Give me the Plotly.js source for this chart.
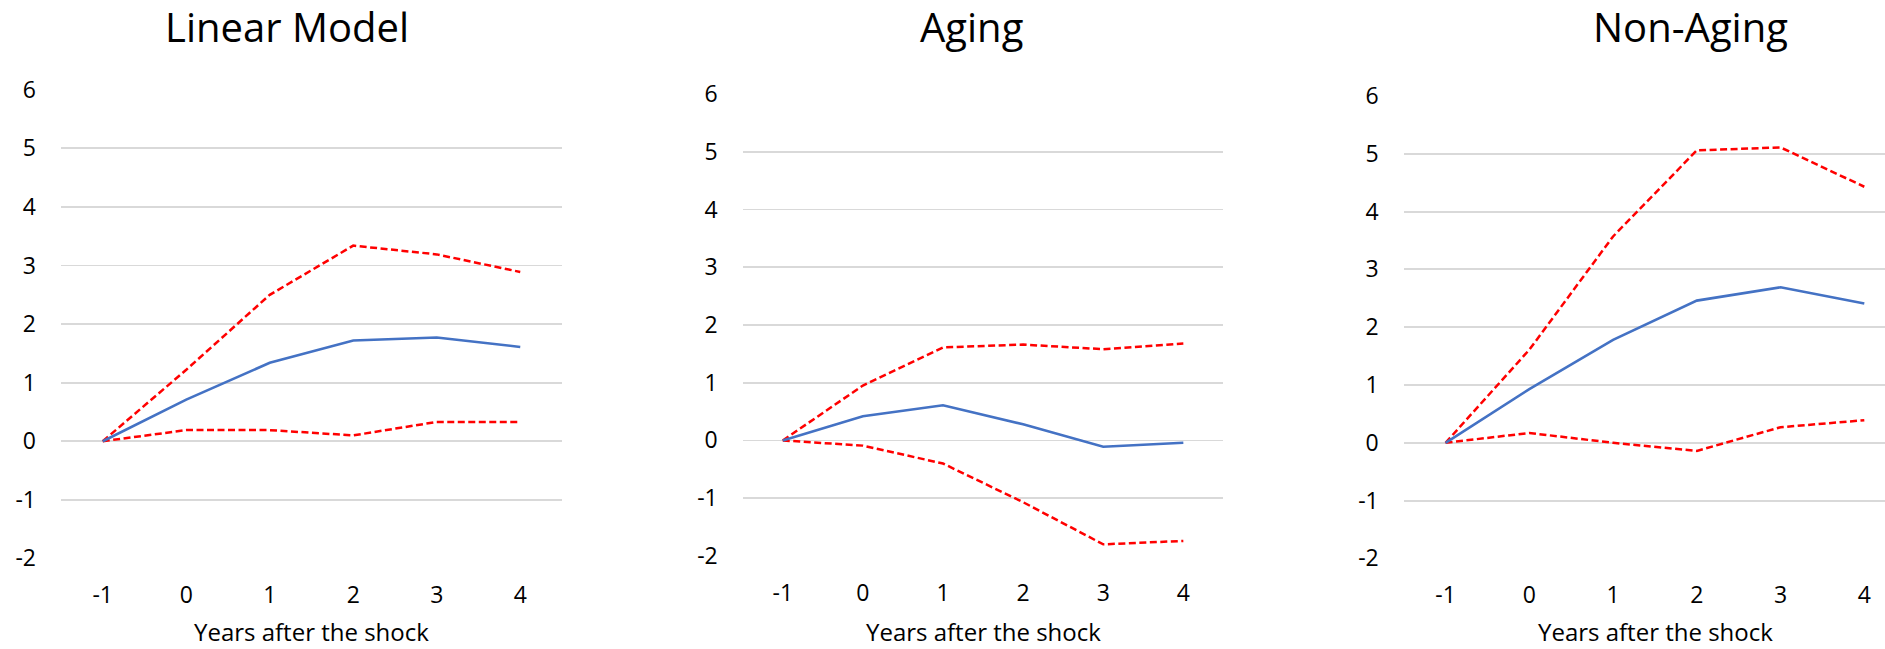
<!DOCTYPE html>
<html>
<head>
<meta charset="utf-8">
<script src="https://cdn.plot.ly/plotly-3.0.1.min.js"></script>
<style>html,body{margin:0;padding:0;background:#fff;}#chart{width:1885px;height:649px;}</style>
</head>
<body>
<div id="chart"></div>
<script>
const years = [-1, 0, 1, 2, 3, 4];
const panelTitles = ["Linear Model", "Aging", "Non-Aging"];
const xAxisTitle = "Years after the shock";
const yTicks = [-2, -1, 0, 1, 2, 3, 4, 5, 6];

const linearEst = [0, 0.71, 1.34, 1.72, 1.77, 1.61];
const linearUpper = [0, 1.22, 2.50, 3.34, 3.19, 2.89];
const linearLower = [0, 0.19, 0.19, 0.10, 0.33, 0.33];

const agingEst = [0, 0.42, 0.61, 0.28, -0.11, -0.04];
const agingUpper = [0, 0.95, 1.61, 1.66, 1.58, 1.68];
const agingLower = [0, -0.09, -0.40, -1.07, -1.80, -1.74];

const nonAgingEst = [0, 0.93, 1.78, 2.46, 2.69, 2.41];
const nonAgingUpper = [0, 1.61, 3.57, 5.06, 5.11, 4.43];
const nonAgingLower = [0, 0.17, 0.00, -0.14, 0.27, 0.39];

const panels = [
  {est: linearEst, up: linearUpper, lo: linearLower},
  {est: agingEst, up: agingUpper, lo: agingLower},
  {est: nonAgingEst, up: nonAgingUpper, lo: nonAgingLower}
];

const W = 1885, H = 649;
const FONT = '"Open Sans", "Noto Sans", sans-serif';
const xDom = [[61 / W, 562 / W], [742.7 / W, 1223.4 / W], [1403.7 / W, 1]];
const yDom = [[(H - 558.4) / H, (H - 89.8) / H], [(H - 555.9) / H, (H - 94.0) / H], [(H - 558.4) / H, (H - 96.0) / H]];
const xRanges = [[-1.5, 4.5], [-1.5, 4.5], [-1.5, 4.247]];
const titleX = [287, 971, 1690];
const axisTitleX = [311.5, 983, 1655];

const traces = [];
const layout = {
  width: W, height: H,
  margin: {l: 0, r: 0, t: 0, b: 0},
  paper_bgcolor: '#ffffff', plot_bgcolor: '#ffffff',
  showlegend: false,
  font: {family: FONT, color: '#000000'},
  annotations: []
};

panels.forEach((p, i) => {
  const sfx = i === 0 ? '' : String(i + 1);
  const xa = 'x' + sfx, ya = 'y' + sfx;
  const dashStyle = {color: '#FF0000', width: 2.5, dash: '7px,3.5px'};
  traces.push({x: years, y: p.up, xaxis: xa, yaxis: ya, mode: 'lines', line: dashStyle, hoverinfo: 'skip'});
  traces.push({x: years, y: p.lo, xaxis: xa, yaxis: ya, mode: 'lines', line: dashStyle, hoverinfo: 'skip'});
  traces.push({x: years, y: p.est, xaxis: xa, yaxis: ya, mode: 'lines', line: {color: '#4472C4', width: 2.6}, hoverinfo: 'skip'});

  layout['xaxis' + sfx] = {
    domain: xDom[i], anchor: ya, range: xRanges[i],
    tickmode: 'array', tickvals: years, ticktext: years.map(String),
    showgrid: false, zeroline: false, showline: false, ticks: '',
    ticklabelstandoff: 21,
    tickfont: {family: FONT, size: 23, color: '#000000'},
    automargin: false, fixedrange: true
  };
  layout['yaxis' + sfx] = {
    domain: yDom[i], anchor: xa, range: [-2, 6],
    tickmode: 'array', tickvals: yTicks, ticktext: yTicks.map(String),
    showgrid: true, gridcolor: '#D9D9D9', gridwidth: 1.8,
    zeroline: false, showline: false, ticks: '',
    ticklabelstandoff: 24,
    tickfont: {family: FONT, size: 23, color: '#000000'},
    automargin: false, fixedrange: true
  };

  layout.annotations.push({
    text: panelTitles[i], xref: 'paper', yref: 'paper',
    x: titleX[i] / W, y: (H - 27) / H, xanchor: 'center', yanchor: 'middle',
    showarrow: false, font: {family: FONT, size: 40, color: '#000000'}
  });
  layout.annotations.push({
    text: xAxisTitle, xref: 'paper', yref: 'paper',
    x: axisTitleX[i] / W, y: (H - 631) / H,
    xanchor: 'center', yanchor: 'middle', borderpad: 0,
    showarrow: false, font: {family: FONT, size: 24, color: '#000000'}
  });
});

Plotly.newPlot('chart', traces, layout, {displayModeBar: false, staticPlot: true});
</script>
</body>
</html>
